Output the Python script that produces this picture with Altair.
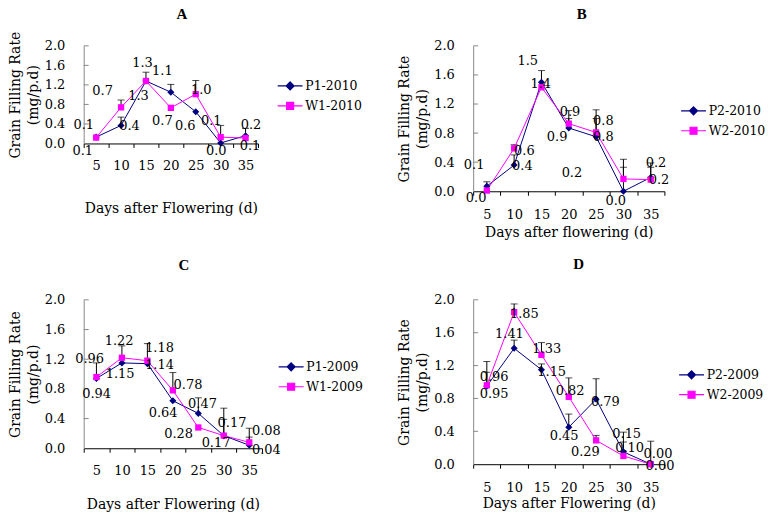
import altair as alt
import pandas as pd

days = ["5", "10", "15", "20", "25", "30", "35"]
y_ticks = [0.4, 0.8, 1.2, 1.6, 2.0]

# ---------------- Panel A ----------------
a_names = ["P1-2010", "W1-2010"]
a_p = [0.13, 0.37, 1.28, 1.05, 0.65, 0.01, 0.16]
a_w = [0.12, 0.74, 1.28, 0.73, 1.01, 0.13, 0.11]
a_p_lab = ["0.1", "0.4", "1.3", "1.1", "0.6", "0.0", "0.2"]
a_w_lab = ["0.1", "0.7", "1.3", "0.7", "1.0", "0.1", "0.1"]
a_p_err = [None, 0.54, None, 1.21, None, None, 0.31]
a_w_err = [None, 0.89, 1.46, None, 1.29, 0.37, None]

# ---------------- Panel B ----------------
b_names = ["P2-2010", "W2-2010"]
b_p = [0.07, 0.36, 1.50, 0.87, 0.75, 0.0, 0.19]
b_w = [0.01, 0.59, 1.43, 0.93, 0.81, 0.17, 0.16]
b_p_lab = ["0.1", "0.4", "1.5", "0.9", "0.8", "0.0", "0.2"]
b_w_lab = ["0.0", "0.6", "1.4", "0.9", "0.8", "0.2", "0.2"]
b_p_err = [0.13, 0.50, 1.66, 1.00, 1.00, 0.33, 0.39]
b_w_err = [None, 0.64, None, 1.11, 1.12, 0.44, 0.33]

# ---------------- Panel C ----------------
c_names = ["P1-2009", "W1-2009"]
c_p = [0.94, 1.15, 1.14, 0.64, 0.47, 0.17, 0.04]
c_w = [0.96, 1.22, 1.18, 0.78, 0.28, 0.17, 0.08]
c_p_lab = ["0.94", "1.15", "1.14", "0.64", "0.47", "0.17", "0.04"]
c_w_lab = ["0.96", "1.22", "1.18", "0.78", "0.28", "0.17", "0.08"]
c_p_err = [None, None, None, None, 0.68, 0.39, 0.15]
c_w_err = [1.15, 1.38, 1.41, 1.02, None, 0.54, 0.27]

# ---------------- Panel D ----------------
d_names = ["P2-2009", "W2-2009"]
d_p = [0.95, 1.41, 1.15, 0.45, 0.79, 0.15, 0.00]
d_w = [0.96, 1.85, 1.33, 0.82, 0.29, 0.10, 0.00]
d_p_lab = ["0.95", "1.41", "1.15", "0.45", "0.79", "0.15", "0.00"]
d_w_lab = ["0.96", "1.85", "1.33", "0.82", "0.29", "0.10", "0.00"]
d_p_err = [1.12, 1.51, 1.22, 0.61, 1.04, 0.39, 0.28]
d_w_err = [1.25, 1.95, 1.48, 1.05, 0.35, 0.27, None]

# label offsets (pixels) - styling only
a_p_off = [(-1, 14), (21, 1), (5, 15), (4, -21), (2, 14), (8, 8), (18, -11)]
a_w_off = [(0, -13), (-6, -16), (9, -18), (4, 13), (18, -4), (3, -16), (17, 8)]
b_p_off = [(1, -21), (22, 1), (0, -21), (2, 9), (21, 0), (6, 10), (19, -14)]
b_w_off = [(3, 8), (24, 3), (13, -3), (15, -12), (21, -11), (-38, -6), (22, 0)]
c_p_off = [(13, 16), (11, 11), (25, 1), (3, 12), (17, -9), (5, 7), (30, 5)]
c_w_off = [(6, -18), (10, -17), (25, -13), (28, -5), (-7, 7), (21, -13), (30, -11)]
d_p_off = [(21, 8), (9, -14), (24, 2), (9, 9), (23, 3), (17, -18), (21, -10)]
d_w_off = [(21, -8), (24, 2), (19, -6), (15, -6), (3, 12), (20, -8), (23, 2)]

NAVY = "#000080"
MAGENTA = "#ff00ff"
FONT = "DejaVu Serif"

LEG_P = "M-2.5,0H2.5M0,-0.8L0.8,0L0,0.8L-0.8,0Z"
LEG_W = "M-2.5,0H2.5M-0.7,-0.7H0.7V0.7H-0.7Z"


def panel(title, names, p, w, plab, wlab, perr, werr, poff, woff,
          width, height, xtitle, xlabpad, xtitlepad, legx, legy, tgap, tdx):
    rows = []
    for i, d in enumerate(days):
        rows.append(dict(day=d, series=names[0], value=p[i], label=plab[i],
                         err=perr[i], dx=poff[i][0], dy=poff[i][1]))
        rows.append(dict(day=d, series=names[1], value=w[i], label=wlab[i],
                         err=werr[i], dx=woff[i][0], dy=woff[i][1]))
    df = pd.DataFrame(rows)
    errdf = df.dropna(subset=["err"]).drop(columns=["label"])
    tickdf = pd.DataFrame({"t": y_ticks})
    titledf = pd.DataFrame({"name": [title]})

    xaxis = alt.Axis(title=xtitle, labelAngle=0, tickBand="extent", tickSize=4,
                     labelPadding=xlabpad, titlePadding=xtitlepad,
                     domainColor="black", tickColor="black")
    yaxis = alt.Axis(title=["Grain Filling Rate", "(mg/p.d)"], values=[0, 0.4, 0.8, 1.2, 1.6, 2.0],
                     format=".1f", ticks=False, labelPadding=19, titlePadding=4,
                     domainColor="#888888", titleLineHeight=18)

    def X():
        return alt.X("day:O", bandPosition=0.5, axis=xaxis,
                     scale=alt.Scale(type="band", domain=days, paddingInner=0, paddingOuter=0))

    def Y(f):
        return alt.Y(f, type="quantitative", axis=yaxis,
                     scale=alt.Scale(domain=[0, 2], nice=False))

    stroke_scale = alt.Scale(domain=names, range=[NAVY, MAGENTA])
    fill_scale = alt.Scale(domain=names, range=[NAVY, MAGENTA])
    shape_scale = alt.Scale(domain=names, range=[LEG_P, LEG_W])
    leg = alt.Legend(orient="none", legendX=legx, legendY=legy, title=None,
                     labelFont=FONT, labelFontSize=12.5, labelColor="black",
                     symbolSize=100, symbolStrokeWidth=1.2, labelOffset=9,
                     rowPadding=7, padding=0, symbolOpacity=1)

    ttl = alt.Chart(titledf).mark_text(font="Liberation Serif", fontSize=15,
                                       fontWeight="bold", color="black",
                                       align="center", baseline="middle").encode(
        text="name:N", x=alt.value(width / 2 + tdx), y=alt.value(-tgap))
    yt = alt.Chart(tickdf).mark_rule(color="#888888").encode(
        y=Y("t"), x=alt.value(0), x2=alt.value(5))
    erule = alt.Chart(errdf).mark_rule(color="black", strokeWidth=1).encode(
        x=X(), y=Y("value"), y2="err:Q")
    ecap = alt.Chart(errdf).mark_tick(color="black", thickness=1, size=7).encode(
        x=X(), y=Y("err"))
    lp = alt.Chart(df).transform_filter(alt.datum.series == names[0]).mark_line(
        strokeWidth=1, color=NAVY).encode(x=X(), y=Y("value"))
    lw = alt.Chart(df).transform_filter(alt.datum.series == names[1]).mark_line(
        strokeWidth=1, color=MAGENTA).encode(x=X(), y=Y("value"))
    pp = alt.Chart(df).transform_filter(alt.datum.series == names[0]).mark_point(
        shape="diamond", filled=True, size=50, color=NAVY, opacity=1).encode(
        x=X(), y=Y("value"))
    wp = alt.Chart(df).transform_filter(alt.datum.series == names[1]).mark_point(
        shape="square", filled=True, size=40, color=MAGENTA, opacity=1).encode(
        x=X(), y=Y("value"))
    txt = alt.Chart(df).transform_calculate(
        ly=f"datum.value - datum.dy * 2 / {height}"
    ).mark_text(font=FONT, fontSize=13, color="black",
                align="center", baseline="middle").encode(
        x=X(), y=Y("ly"),
        xOffset=alt.XOffset("dx:Q", scale=None),
        text="label:N")
    legl = alt.Chart(df).mark_point(
        filled=True, strokeWidth=1.2, opacity=0).encode(
        x=X(), y=Y("value"),
        fill=alt.Fill("series:N", scale=fill_scale, legend=leg),
        stroke=alt.Stroke("series:N", scale=stroke_scale, legend=leg),
        shape=alt.Shape("series:N", scale=shape_scale, legend=leg))

    return alt.layer(yt, erule, ecap, lp, lw, pp, wp, txt, legl, ttl).properties(
        width=width, height=height)


A = panel("A", a_names, a_p, a_w, a_p_lab, a_w_lab, a_p_err, a_w_err, a_p_off, a_w_off,
          175, 98, "Days after Flowering (d)", 12, 29, 201, 34, 32, 11)
B = panel("B", b_names, b_p, b_w, b_p_lab, b_w_lab, b_p_err, b_w_err, b_p_off, b_w_off,
          192, 146, "Days after flowering (d)", 13, 4, 215, 59, 32, 13)
C = panel("C", c_names, c_p, c_w, c_p_lab, c_w_lab, c_p_err, c_w_err, c_p_off, c_w_off,
          179, 149, "Days after Flowering (d)", 12, 20, 202, 61, 35, 11)
D = panel("D", d_names, d_p, d_w, d_p_lab, d_w_lab, d_p_err, d_w_err, d_p_off, d_w_off,
          192, 165, "Days after Flowering (d)", 13, 2, 213, 69, 36, 10)

chart = alt.concat(A, B, C, D, columns=2, bounds="flush", align="all",
                   spacing={"row": 90, "column": 199}).resolve_scale(
    x="independent", y="independent", stroke="independent",
    fill="independent", shape="independent"
).properties(
    padding={"left": 0, "top": -2, "right": 0, "bottom": 0}
).configure_view(stroke=None).configure_axis(
    labelFont=FONT, titleFont=FONT, labelFontSize=13, titleFontSize=14,
    titleFontWeight="normal", labelColor="black", titleColor="black", grid=False
)

chart.save("out.html", embed_options={"renderer": "svg", "actions": False})
